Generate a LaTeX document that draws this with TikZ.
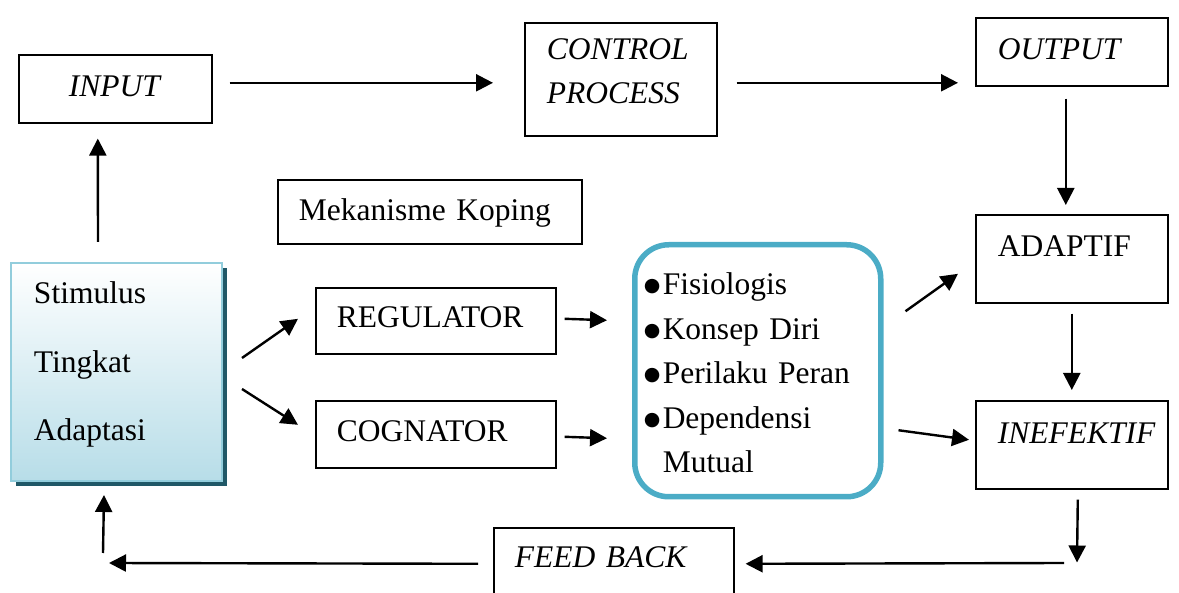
\documentclass[tikz,border=0pt]{standalone}
\usepackage{fontspec}
\setmainfont{Liberation Serif}
\newfontfamily\symfont{DejaVu Sans}
\usetikzlibrary{arrows.meta,calc,shadows}
\definecolor{stimedge}{RGB}{146,205,220}
\definecolor{stimfill}{RGB}{183,221,232}
\definecolor{stimshade}{RGB}{32,88,103}
\definecolor{mechedge}{RGB}{75,172,198}
\tikzset{
  box/.style={draw, line width=1.6pt, anchor=north west, inner ysep=0pt,
    align=left, font=\fontsize{31.5}{44}\selectfont},
  arr/.style={line width=2.4pt, -{Triangle[length=17pt,width=17pt]}},
}
\newcommand{\bul}{\makebox[18pt][l]{\hspace*{-1pt}\raisebox{3pt}{\symfont\fontsize{19}{0}\selectfont ●}}}
\begin{document}
\begin{tikzpicture}[x=1pt,y=-1pt]
      \useasboundingbox (0,0) rectangle (1179,593);
      \node (inp) at (18,54) [box, inner xsep=0pt, text width=193pt, align=center,
        text height=42pt, text depth=26pt] {\textit{INPUT}};
      \node (ctrl) at (524,22) [box, inner xsep=22pt, text width=148pt,
        text height=36.5pt, text depth=76.5pt] {\textit{CONTROL}\\\textit{PROCESS}};
      \node (out) at (975,17) [box, inner xsep=22pt, text width=148pt,
        text height=41.5pt, text depth=26.5pt] {\textit{OUTPUT}};
      \node (koping) at (277,179) [box, inner xsep=21pt, text width=262pt,
        text height=41pt, text depth=23pt] {Mekanisme Koping};
      \node (stim) at (10,262) [box, draw=stimedge, line width=2pt,
        top color=white, bottom color=stimfill,
        general shadow={fill=stimshade, shadow xshift=5pt, shadow yshift=-5pt},
        inner xsep=23pt, text width=165pt, text height=41pt, text depth=177pt,
        font=\fontsize{31.5}{68.5}\selectfont] {Stimulus\\Tingkat\\Adaptasi};
      \node (reg) at (315,287) [box, inner xsep=21pt, text width=198pt,
        text height=39.5pt, text depth=26.5pt] {REGULATOR};
      \node (cog) at (315,400) [box, inner xsep=21pt, text width=198pt,
        text height=40.5pt, text depth=26.5pt] {COGNATOR};
      \node (mech) at (632,242) [box, draw=mechedge, line width=5.5pt,
        rounded corners=34pt, inner xsep=10pt, text width=226pt,
        text height=50pt, text depth=202pt,
        font=\fontsize{31.5}{44.5}\selectfont]
        {\bul Fisiologis\\\bul Konsep Diri\\\bul Perilaku Peran\\\bul Dependensi\\\hspace*{18pt}Mutual};
      \node (adap) at (975,214) [box, inner xsep=22pt, text width=148pt,
        text height=41.5pt, text depth=46.5pt] {ADAPTIF};
      \node (inef) at (975,400) [box, inner xsep=22pt, text width=148pt,
        text height=42.5pt, text depth=45.5pt] {\textit{INEFEKTIF}};
      \node (fb) at (493,527) [box, inner xsep=21pt, text width=198pt,
        text height=40pt, text depth=35pt] {\textit{FEED BACK}};
      \coordinate (fbin) at (1077,562.5);
      \coordinate (fbout) at (103,563);
      \begin{scope}[arr]
        \draw ($(inp.east)+(17,-6)$) to ($(ctrl.west)+(-31,3.5)$);
        \draw ($(ctrl.east)+(19,3.5)$) to ($(out.west)+(-17,31)$);
        \draw ($(out.south)+(-6,12)$) to ($(adap.north)+(-6,-9)$);
        \draw ($(stim.north)+(-18.5,-20)$) to ($(inp.south)+(-17.5,15)$);
        \draw ($(stim.east)+(19,-14)$) to ($(reg.west)+(-17,-2)$);
        \draw ($(stim.east)+(19,17)$) to ($(cog.west)+(-17,-9.5)$);
        \draw ($(reg.east)+(8,-2)$) to ($(mech.west)+(-25,-50.5)$);
        \draw ($(cog.east)+(8,2.5)$) to ($(mech.west)+(-25,67.5)$);
        \draw ($(mech.east)+(22,-59.5)$) to ($(adap.west)+(-17,15)$);
        \draw ($(mech.east)+(15,59.5)$) to ($(inef.west)+(-6,-5)$);
        \draw ($(adap.south)+(0,10)$) to ($(inef.north)+(0,-10)$);
        \draw ($(inef.south)+(6,10)$) to (fbin);
        \draw ($(fbin)+(-13,0.5)$) to ($(fb.east)+(11,-1.5)$);
        \draw ($(fb.west)+(-15,-1.5)$) to ($(fbout)+(6,0)$);
        \draw ($(fbout)+(0,-10)$) to ($(stim.south)+(-12.5,13)$);
      \end{scope}
    \end{tikzpicture}
\end{document}
